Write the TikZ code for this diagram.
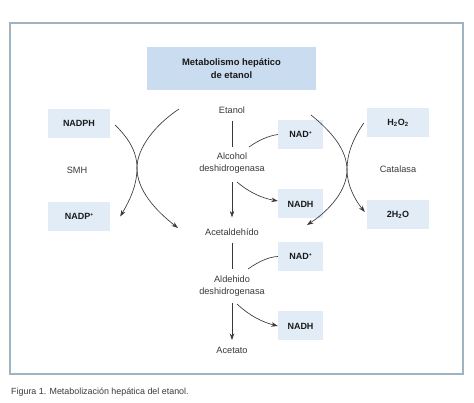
\documentclass[tikz,border=0pt]{standalone}
\usepackage{fontspec}
\setmainfont{Liberation Sans}
\usetikzlibrary{arrows.meta}
\definecolor{framec}{HTML}{9FB3C1}
\definecolor{titlefill}{HTML}{C9DCF0}
\definecolor{boxfill}{HTML}{E2ECF6}
\definecolor{linec}{HTML}{383838}
\definecolor{txt}{HTML}{3A3A3A}
\definecolor{boldtxt}{HTML}{1A1A1A}
\newcommand{\plusup}{\raisebox{0.55ex}{\fontsize{5}{5}\selectfont +}}
\begin{document}
\begin{tikzpicture}[x=1pt,y=-1pt,
  lbl/.style={font=\fontsize{9.2}{12.5}\selectfont, text=txt, align=center, inner sep=0pt},
  chem/.style={fill=boxfill, font=\bfseries\fontsize{9}{11}\selectfont, text=boldtxt, minimum width=62pt, minimum height=29pt, inner sep=0pt},
  chems/.style={chem, minimum width=45pt},
  conn/.style={draw=linec, line width=0.65pt},
  arr/.style={conn, -{Stealth[length=6.5pt,width=4.5pt]}},
]
\useasboundingbox (0,0) rectangle (474,403);
\fill[white] (0,0) rectangle (474,403);
\draw[framec, line width=1.6pt] (10,23) rectangle (463,374);

\node[fill=titlefill, minimum width=169pt, minimum height=43pt, inner sep=0pt, align=center,
      font=\bfseries\fontsize{9.4}{13}\selectfont, text=boldtxt] (title) at (231.5,68.5) {Metabolismo hepático\\de etanol};

% main pathway
\node[lbl] (etanol) at (232,110) {Etanol};
\node[lbl] (adh) at (232,163) {Alcohol\\deshidrogenasa};
\node[lbl] (acetal) at (232,232) {Acetaldehído};
\node[lbl] (aldh) at (232,286) {Aldehido\\deshidrogenasa};
\node[lbl] (acetato) at (232,350) {Acetato};

% cofactor boxes
\node[chems] (nad1) at (300.5,134.5) {NAD\plusup};
\node[chems] (nadh1) at (300.5,204) {NADH};
\node[chems] (nad2) at (300.5,256.5) {NAD\plusup};
\node[chems] (nadh2) at (300.5,326) {NADH};

% SMH side
\node[chem] (nadph) at (79,123.5) {NADPH};
\node[lbl] (smh) at (77,170) {SMH};
\node[chem] (nadp) at (79,216.5) {NADP\plusup};

% catalase side
\node[chem] (h2o2) at (398,122.5) {H\textsubscript{2}O\textsubscript{2}};
\node[lbl] (catalasa) at (398,169) {Catalasa};
\node[chem] (h2o) at (398,214.5) {2H\textsubscript{2}O};

\node[lbl, anchor=west, font=\fontsize{8.9}{11}\selectfont, text=txt] (caption) at (11,392) {Figura 1. Metabolización hepática del etanol.};

% main vertical connectors
\draw[conn] ([yshift=-7pt]etanol.south) -- ([yshift=5.5pt]adh.north);
\draw[arr] ([yshift=-8.5pt]adh.south) -- ([yshift=11pt]acetal.north);
\draw[conn] ([yshift=-7pt]acetal.south) -- ([yshift=6.5pt]aldh.north);
\draw[arr] ([yshift=-6.5pt]aldh.south) -- ([yshift=6.6pt]acetato.north);

% NAD+ / NADH connectors
\coordinate (nadin1) at (249,147);
\coordinate (nadout1) at (237,182);
\coordinate (nadin2) at (248,269);
\coordinate (nadout2) at (237,304);
\draw[conn] (nadin1) .. controls (259,140) and (268,136) .. (nad1.west);
\draw[arr] (nadout1) .. controls (250,193) and (262,198) .. ([yshift=3pt]nadh1.west);
\draw[conn] (nadin2) .. controls (258,262) and (268,257) .. (nad2.west);
\draw[arr] (nadout2) .. controls (250,316) and (262,322) .. (nadh2.west);

% SMH arcs
\coordinate (smhin) at (179,109);
\coordinate (smhx) at (137,168);
\coordinate (smhout) at (178,228);
\draw[arr] (smhin) .. controls (155,125) and (137,148) .. (smhx)
           .. controls (137,185) and (130,200) .. ([xshift=10pt]nadp.east);
\draw[arr] ([xshift=5pt,yshift=-1.5pt]nadph.east) .. controls (127,137) and (137,150) .. (smhx)
           .. controls (137,190) and (155,210) .. (smhout);

% catalase arcs
\coordinate (catin) at (311,115);
\coordinate (catx) at (347,170);
\coordinate (catout) at (307,225);
\draw[arr] (catin) .. controls (332,132) and (347,150) .. (catx)
           .. controls (347,190) and (330,210) .. (catout);
\draw[arr] ([xshift=-3pt,yshift=-0.5pt]h2o2.west) .. controls (352,140) and (347,155) .. (catx)
           .. controls (347,185) and (355,200) .. ([xshift=-2pt,yshift=2.5pt]h2o.west);
\end{tikzpicture}
\end{document}
